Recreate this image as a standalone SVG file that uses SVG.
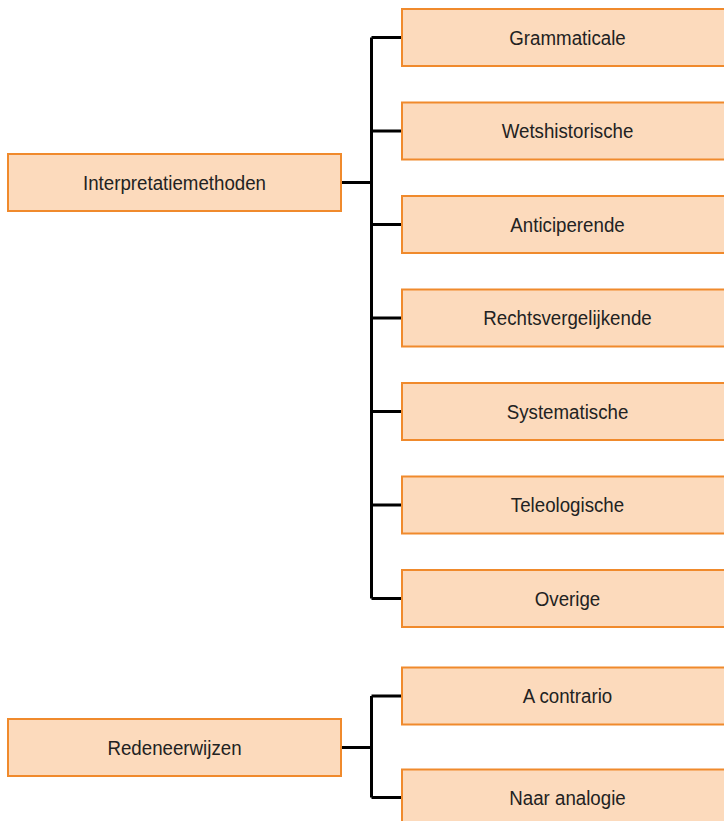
<svg xmlns="http://www.w3.org/2000/svg" width="724" height="821" viewBox="0 0 724 821">
<style>
.box{fill:#FCDABC;stroke:#F08A2C;stroke-width:2}
.lbl{font-family:"Liberation Sans",Arial,sans-serif;font-size:20px;fill:#222;text-anchor:middle}
.con{fill:none;stroke:#000;stroke-width:3}
</style>
<rect width="724" height="821" fill="#fff"/>
<g id="connectors">
<path class="con" d="M341 182.5H371.5M371.5 37.5V598.5M371.5 37.5H402M371.5 131H402M371.5 224.5H402M371.5 318H402M371.5 411.5H402M371.5 505H402M371.5 598.5H402"/>
<path class="con" d="M341 747.5H371.5M371.5 696V797.5M371.5 696H402M371.5 797.5H402"/>
</g>
<g id="interpretatiemethoden"><rect class="box" x="8" y="154" width="333" height="57"/><text class="lbl" transform="translate(174.5 189.5) scale(0.935 1)">Interpretatiemethoden</text></g>
<g id="grammaticale"><rect class="box" x="402" y="9" width="331" height="57"/><text class="lbl" transform="translate(567.5 44.5) scale(0.935 1)">Grammaticale</text></g>
<g id="wetshistorische"><rect class="box" x="402" y="102.5" width="331" height="57"/><text class="lbl" transform="translate(567.5 138) scale(0.935 1)">Wetshistorische</text></g>
<g id="anticiperende"><rect class="box" x="402" y="196" width="331" height="57"/><text class="lbl" transform="translate(567.5 231.5) scale(0.935 1)">Anticiperende</text></g>
<g id="rechtsvergelijkende"><rect class="box" x="402" y="289.5" width="331" height="57"/><text class="lbl" transform="translate(567.5 325) scale(0.935 1)">Rechtsvergelijkende</text></g>
<g id="systematische"><rect class="box" x="402" y="383" width="331" height="57"/><text class="lbl" transform="translate(567.5 418.5) scale(0.935 1)">Systematische</text></g>
<g id="teleologische"><rect class="box" x="402" y="476.5" width="331" height="57"/><text class="lbl" transform="translate(567.5 512) scale(0.935 1)">Teleologische</text></g>
<g id="overige"><rect class="box" x="402" y="570" width="331" height="57"/><text class="lbl" transform="translate(567.5 605.5) scale(0.935 1)">Overige</text></g>
<g id="redeneerwijzen"><rect class="box" x="8" y="719" width="333" height="57"/><text class="lbl" transform="translate(174.5 754.5) scale(0.935 1)">Redeneerwijzen</text></g>
<g id="a-contrario"><rect class="box" x="402" y="667.5" width="331" height="57"/><text class="lbl" transform="translate(567.5 703) scale(0.935 1)">A contrario</text></g>
<g id="naar-analogie"><rect class="box" x="402" y="769.5" width="331" height="57"/><text class="lbl" transform="translate(567.5 805) scale(0.935 1)">Naar analogie</text></g>
</svg>
